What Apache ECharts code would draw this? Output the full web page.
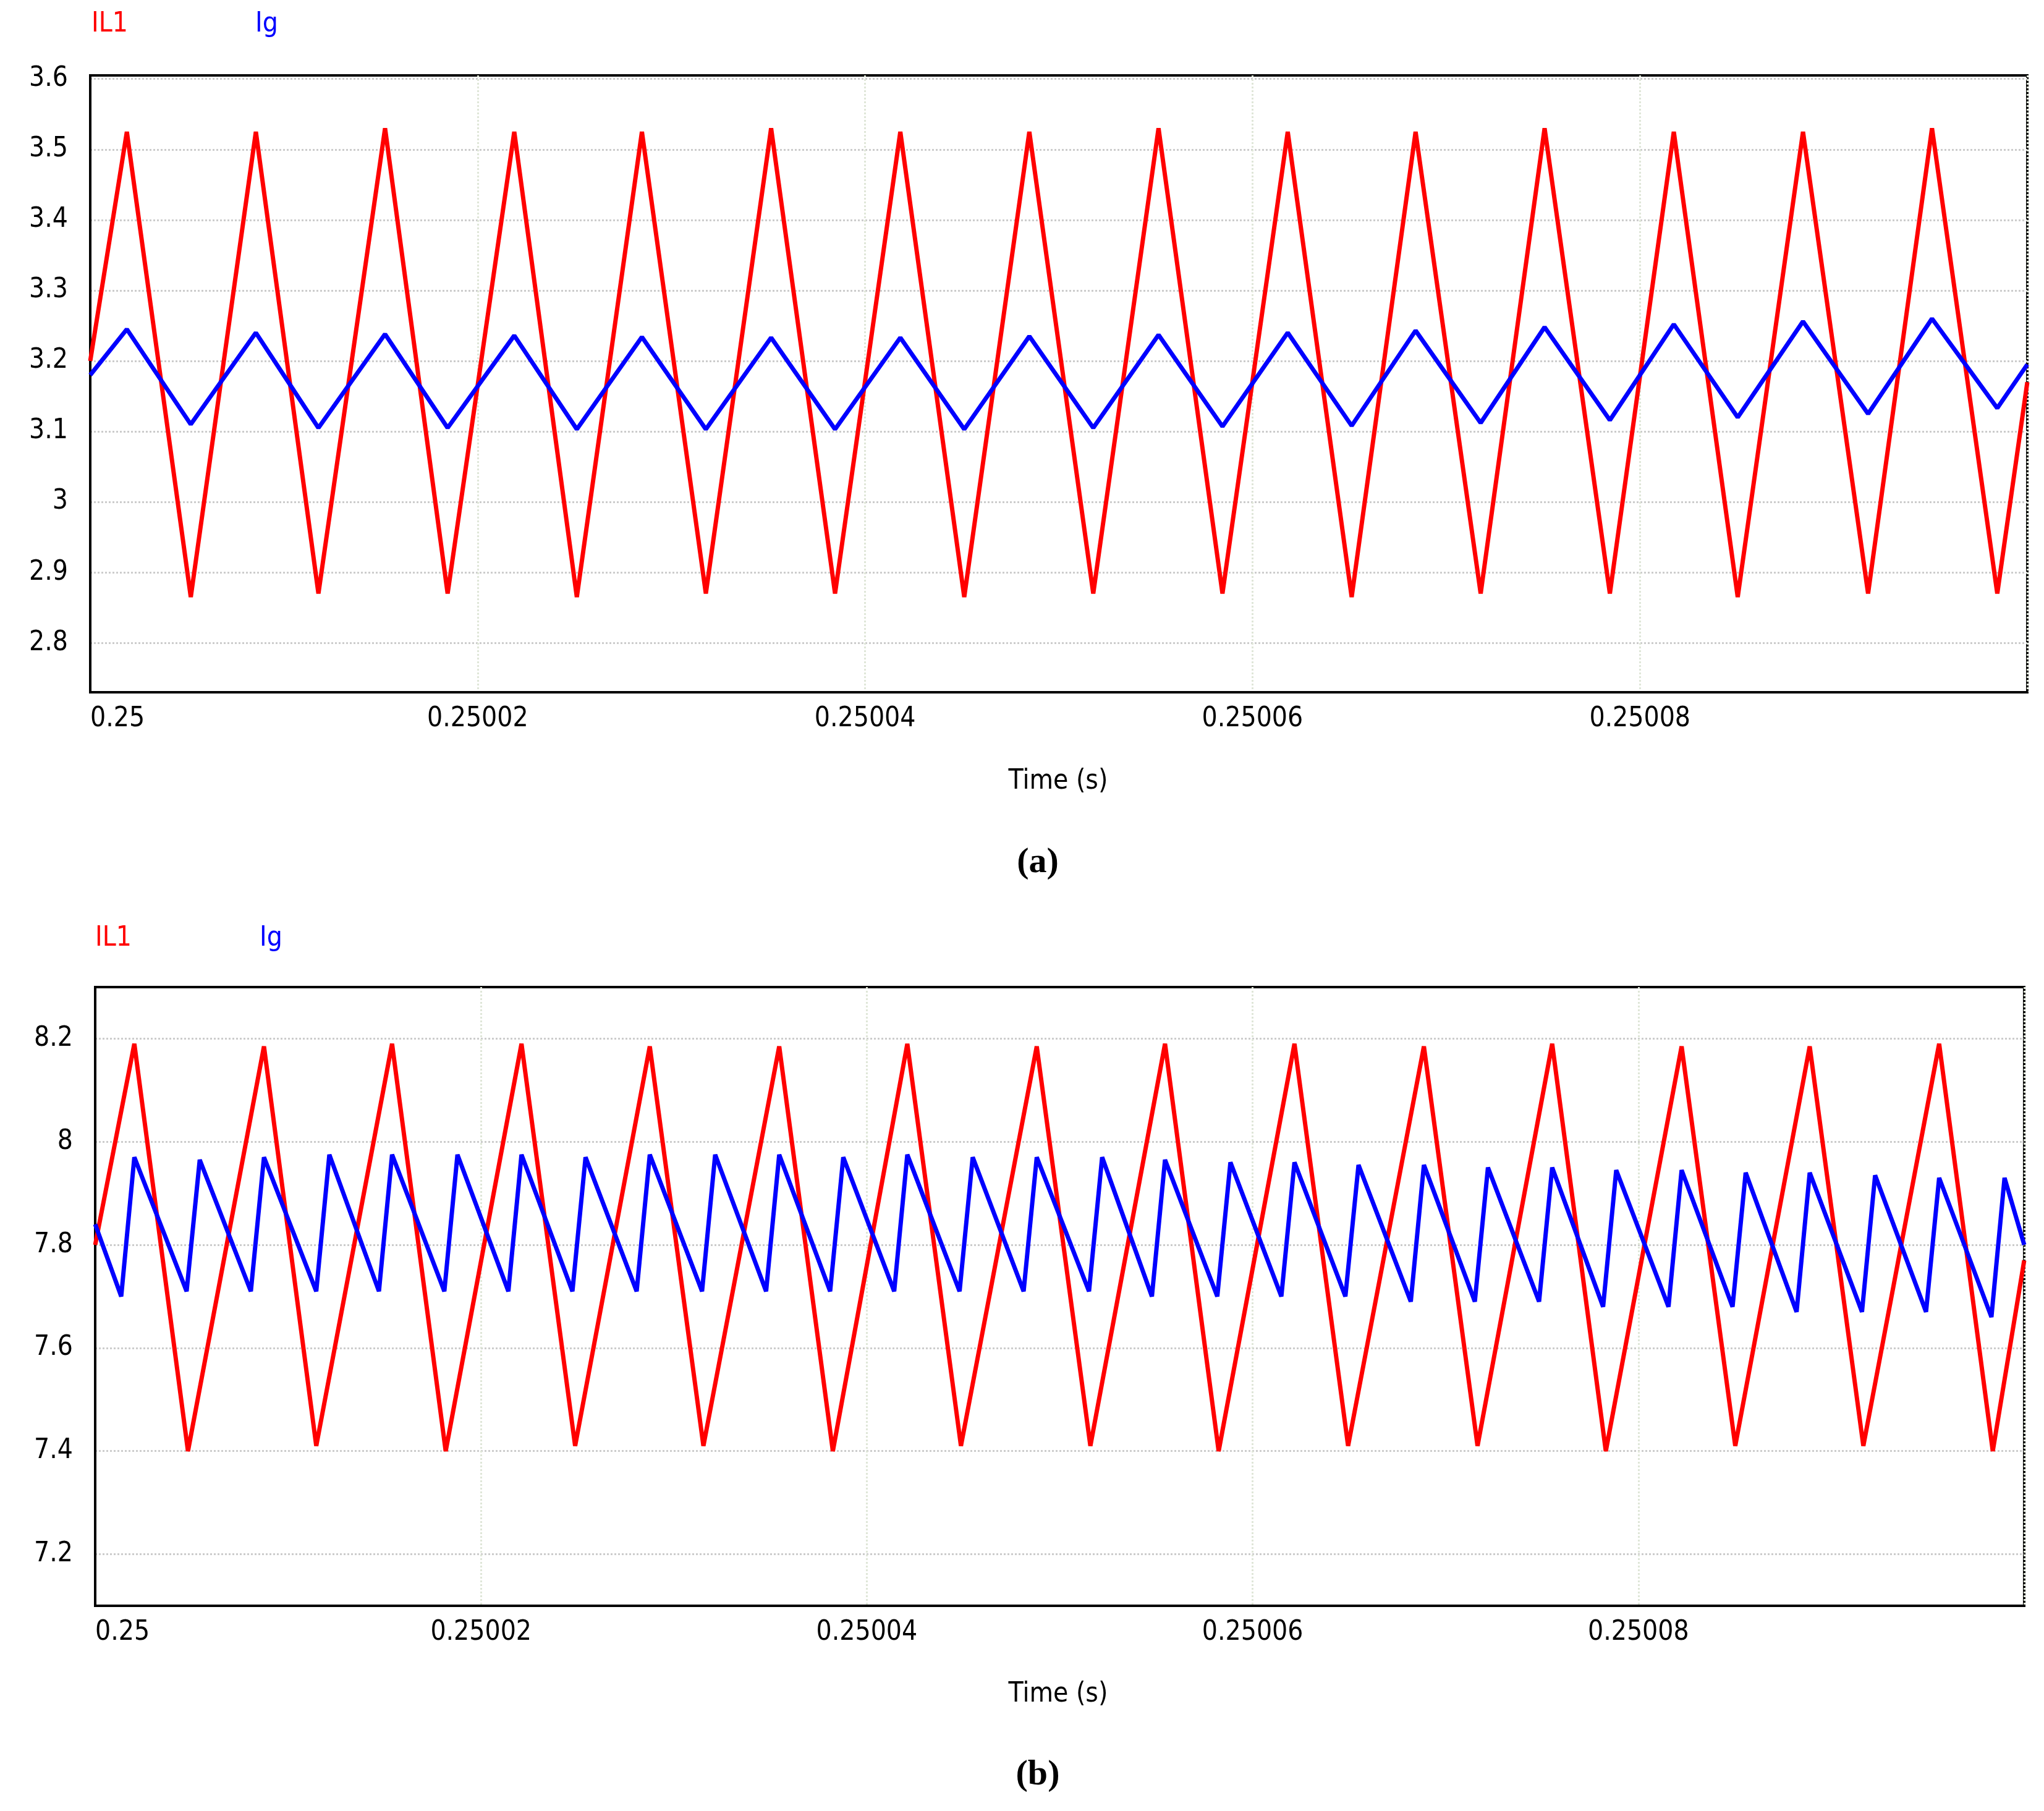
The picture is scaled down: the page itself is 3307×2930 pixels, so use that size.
<!DOCTYPE html>
<html><head><meta charset="utf-8">
<script src="https://cdn.jsdelivr.net/npm/echarts@6/dist/echarts.min.js"></script>
<style>html,body{margin:0;padding:0;background:#fff}#c{width:3307px;height:2930px}</style>
</head><body><div id="c"></div>
<script>
// time in microseconds after 0.25 s
const xTicksA = [2.8, 2.9, 3.0, 3.1, 3.2, 3.3, 3.4, 3.5, 3.6];
const xTicksB = [7.2, 7.4, 7.6, 7.8, 8.0, 8.2];
// (a) IL1
const aRedPeakT = [1.89, 8.55, 15.22, 21.89, 28.48, 35.15, 41.82, 48.48, 55.15, 61.82, 68.42, 75.08, 81.75, 88.42, 95.08];
const aRedPeakV = [3.525, 3.525, 3.53, 3.525, 3.525, 3.53, 3.525, 3.525, 3.53, 3.525, 3.525, 3.53, 3.525, 3.525, 3.53];
const aRedTroughT = [5.19, 11.78, 18.45, 25.12, 31.78, 38.45, 45.12, 51.78, 58.45, 65.12, 71.78, 78.45, 85.05, 91.78, 98.45];
const aRedTroughV = [2.865, 2.87, 2.87, 2.865, 2.87, 2.87, 2.865, 2.87, 2.87, 2.865, 2.87, 2.87, 2.865, 2.87, 2.87];
const aRedEnds = [[0, 3.2], [100, 3.17]];
// (a) Ig
const aBluePeakT = aRedPeakT;
const aBluePeakV = [3.245, 3.24, 3.238, 3.236, 3.234, 3.233, 3.233, 3.235, 3.237, 3.24, 3.243, 3.248, 3.252, 3.256, 3.26];
const aBlueTroughT = aRedTroughT;
const aBlueTroughV = [3.11, 3.105, 3.105, 3.103, 3.103, 3.103, 3.103, 3.105, 3.107, 3.108, 3.112, 3.116, 3.12, 3.125, 3.133];
const aBlueEnds = [[0, 3.18], [100, 3.195]];
// (b) IL1
const bRedPeakT = [2.03, 8.75, 15.39, 22.10, 28.75, 35.46, 42.10, 48.81, 55.46, 62.17, 68.88, 75.53, 82.24, 88.88, 95.59];
const bRedPeakV = [8.19, 8.185, 8.19, 8.19, 8.185, 8.185, 8.19, 8.185, 8.19, 8.19, 8.185, 8.19, 8.185, 8.185, 8.19];
const bRedTroughT = [4.81, 11.46, 18.17, 24.88, 31.53, 38.24, 44.88, 51.59, 58.24, 64.95, 71.66, 78.31, 85.02, 91.66, 98.37];
const bRedTroughV = [7.40, 7.41, 7.40, 7.41, 7.41, 7.40, 7.41, 7.41, 7.40, 7.41, 7.41, 7.40, 7.41, 7.41, 7.40];
const bRedEnds = [[0, 7.80], [100, 7.77]];
// (b) Ig
const bBluePeakT = [2.03, 5.42, 8.75, 12.14, 15.39, 18.78, 22.10, 25.42, 28.75, 32.14, 35.46, 38.78, 42.10, 45.49, 48.81, 52.20, 55.46, 58.85, 62.17, 65.49, 68.88, 72.20, 75.53, 78.85, 82.24, 85.56, 88.88, 92.27, 95.59, 98.98];
const bBluePeakV = [7.97, 7.965, 7.97, 7.975, 7.975, 7.975, 7.975, 7.97, 7.975, 7.975, 7.975, 7.97, 7.975, 7.97, 7.97, 7.97, 7.965, 7.96, 7.96, 7.955, 7.955, 7.95, 7.95, 7.945, 7.945, 7.94, 7.94, 7.935, 7.93, 7.93];
const bBlueTroughT = [1.35, 4.74, 8.07, 11.46, 14.71, 18.10, 21.42, 24.74, 28.07, 31.46, 34.78, 38.10, 41.42, 44.81, 48.13, 51.52, 54.78, 58.17, 61.49, 64.81, 68.20, 71.52, 74.85, 78.17, 81.56, 84.88, 88.20, 91.59, 94.91, 98.30];
const bBlueTroughV = [7.70, 7.71, 7.71, 7.71, 7.71, 7.71, 7.71, 7.71, 7.71, 7.71, 7.71, 7.71, 7.71, 7.71, 7.71, 7.71, 7.70, 7.70, 7.70, 7.70, 7.69, 7.69, 7.69, 7.68, 7.68, 7.68, 7.67, 7.67, 7.67, 7.66];
const bBlueEnds = [[0, 7.84], [100, 7.80]];

function build(pt, pv, tt, tv, ends) {
  const pts = [ends[0], ends[1]];
  pt.forEach((t, i) => pts.push([t, pv[i]]));
  tt.forEach((t, i) => pts.push([t, tv[i]]));
  return pts.sort((a, b) => a[0] - b[0]);
}
const FONT = 'DejaVu Sans Condensed, DejaVu Sans, sans-serif';
function xAx(gi) {
  return {
    type: 'value', gridIndex: gi, min: 0, max: 100, interval: 20,
    axisLine: { show: true, onZero: false, lineStyle: { color: '#000', width: 4 } },
    axisTick: { show: false },
    axisLabel: { showMaxLabel: false, alignMinLabel: 'left', margin: 22, fontFamily: FONT, fontSize: 44, color: '#000',
      formatter: v => v === 0 ? '0.25' : (0.25 + v * 1e-6).toFixed(5) },
    splitLine: { show: true, lineStyle: { color: '#dfe6d8', width: 3, type: [3, 3] } }
  };
}
function yAx(gi, min, max, ticks) {
  return {
    type: 'value', gridIndex: gi, min: min, max: max,
    axisLine: { show: true, onZero: false, lineStyle: { color: '#000', width: 4 } },
    axisTick: { show: false, customValues: ticks },
    axisLabel: { customValues: ticks, margin: 36, fontFamily: FONT, fontSize: 44, color: '#000',
      formatter: v => String(+v.toFixed(2)) },
    splitLine: { show: true, lineStyle: { color: '#cccccc', width: 3, type: [3, 3] } }
  };
}
const ln = (xi, data, color) => ({ type: 'line', xAxisIndex: xi, yAxisIndex: xi, data, symbol: 'none', smooth: false,
  lineStyle: { color, width: 7 }, animation: false });
const chart = echarts.init(document.getElementById('c'));
chart.setOption({
  animation: false,
  grid: [
    { left: 146, right: 27, top: 122, height: 998, show: true, borderColor: '#000', borderWidth: 4 },
    { left: 154, right: 32, top: 1597, height: 1001, show: true, borderColor: '#000', borderWidth: 4 }
  ],
  xAxis: [xAx(0), xAx(1)],
  yAxis: [yAx(0, 2.73, 3.605, xTicksA), yAx(1, 7.1, 8.3, xTicksB)],
  series: [
    ln(0, build(aRedPeakT, aRedPeakV, aRedTroughT, aRedTroughV, aRedEnds), '#ff0000'),
    ln(0, build(aBluePeakT, aBluePeakV, aBlueTroughT, aBlueTroughV, aBlueEnds), '#0000ff'),
    ln(1, build(bRedPeakT, bRedPeakV, bRedTroughT, bRedTroughV, bRedEnds), '#ff0000'),
    ln(1, build(bBluePeakT, bBluePeakV, bBlueTroughT, bBlueTroughV, bBlueEnds), '#0000ff')
  ],
  graphic: [
    { type: 'text', left: 148, top: 18, style: { text: 'IL1', fill: '#ff0000', font: '44px ' + FONT } },
    { type: 'text', left: 413, top: 18, style: { text: 'Ig', fill: '#0000ff', font: '44px ' + FONT } },
    { type: 'text', left: 154, top: 1497, style: { text: 'IL1', fill: '#ff0000', font: '44px ' + FONT } },
    { type: 'text', left: 420, top: 1497, style: { text: 'Ig', fill: '#0000ff', font: '44px ' + FONT } },
    { type: 'text', x: 1712, y: 1265, style: { text: 'Time (s)', fill: '#000', font: '44px ' + FONT, align: 'center', verticalAlign: 'middle' } },
    { type: 'text', x: 1712, y: 2742, style: { text: 'Time (s)', fill: '#000', font: '44px ' + FONT, align: 'center', verticalAlign: 'middle' } },
    { type: 'text', x: 1679, y: 1396, style: { text: '(a)', fill: '#000', font: 'bold 58px "Liberation Serif", serif', align: 'center', verticalAlign: 'middle' } },
    { type: 'text', x: 1679, y: 2872, style: { text: '(b)', fill: '#000', font: 'bold 58px "Liberation Serif", serif', align: 'center', verticalAlign: 'middle' } }
  ]
});
</script></body></html>
